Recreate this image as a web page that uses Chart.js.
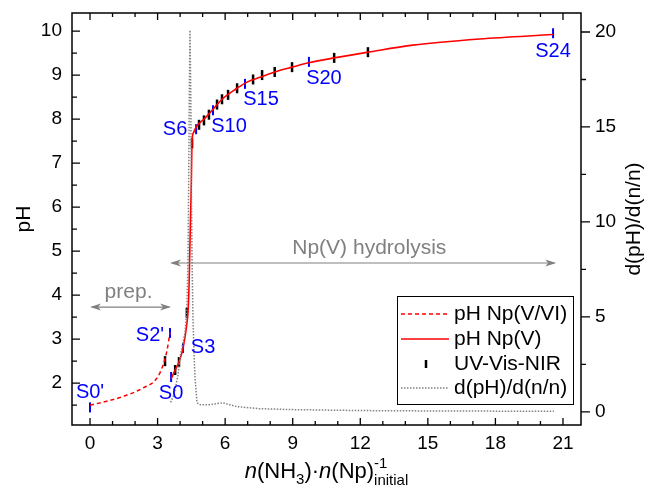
<!DOCTYPE html>
<html>
<head>
<meta charset="utf-8">
<script src="https://cdn.jsdelivr.net/npm/chart.js@4.4.1/dist/chart.umd.min.js"></script>
<style>
  html, body { margin: 0; padding: 0; background: #fff; }
</style>
</head>
<body>
<canvas id="mygraph" width="648" height="495"></canvas>
<script>
// pH during preparation, Np(V/VI) (dashed)
let prepX  = [0, 0.9, 1.65, 2.35, 2.95, 3.25, 3.42, 3.55];
let prepPH = [1.5, 1.61, 1.73, 1.89, 2.1, 2.42, 2.75, 3.15];

// pH during Np(V) hydrolysis (solid)
let npvX  = [3.6, 3.78, 3.95, 4.13, 4.28, 4.36, 4.4, 4.43, 4.46, 4.5, 4.53, 4.6, 4.75, 5.06, 5.46, 5.86, 6.53, 6.97, 7.55, 8.2, 8.97, 9.72, 10.84, 12.35, 14.34, 17.3, 20.56];
let npvPH = [2.1, 2.3, 2.48, 2.8, 3.27, 3.7, 4.27, 5.0, 5.7, 6.6, 7.5, 7.7, 7.85, 8.0, 8.22, 8.45, 8.7, 8.84, 8.95, 9.07, 9.18, 9.28, 9.39, 9.52, 9.68, 9.82, 9.92];

// UV-Vis-NIR sampling points (black marks)
let uvX  = [3.33, 3.78, 3.95, 4.3, 4.53, 4.84, 5.06, 5.28, 5.64, 5.86, 6.13, 6.53, 7.24, 7.64, 8.2, 8.97, 10.84, 12.34];
let uvPH = [2.5, 2.3, 2.48, 3.6, 7.45, 7.87, 7.97, 8.1, 8.33, 8.45, 8.55, 8.7, 8.9, 9.0, 9.07, 9.18, 9.39, 9.52];

// labelled samples (blue marks)
let sampleNames = ["S0'", "S0", "S2'", "S3", "S6", "S10", "S15", "S20", "S24"];
let sampleX  = [0, 3.6, 3.55, 4.13, 4.71, 5.46, 6.88, 9.72, 20.56];
let samplePH = [1.45, 2.14, 3.14, 2.8, 7.77, 8.2, 8.8, 9.3, 9.95];

// derivative d(pH)/d(n/n) (dotted, right axis)
let derivX = [3.58, 3.75, 3.9, 4.0, 4.12, 4.22, 4.3, 4.35, 4.38, 4.41, 4.44, 4.47, 4.5, 4.53, 4.57, 4.62, 4.66, 4.75, 4.9, 5.3, 5.9, 6.5, 7.5, 9, 12, 15, 18, 20.6];
let derivY = [0.5, 1.0, 1.9, 2.9, 3.6, 4.2, 5.5, 8, 12, 17, 20.1, 17, 12, 8, 5.0, 3, 1.85, 0.48, 0.37, 0.38, 0.48, 0.28, 0.17, 0.12, 0.07, 0.05, 0.04, 0.03];

let xTicks = [0, 3, 6, 9, 12, 15, 18, 21];
let phTicks = [2, 3, 4, 5, 6, 7, 8, 9, 10];
let derivTicks = [0, 5, 10, 15, 20];

// arrows: [x from, x to, pH level]
let prepArrow = [0, 3.6, 3.73];
let hydroArrow = [3.55, 20.7, 4.73];

var FONT = "'Liberation Sans', Arial, sans-serif";

function pts(xs, ys) {
  return xs.map(function (x, i) { return { x: x, y: ys[i] }; });
}

// where each blue label sits relative to its mark (px)
var labelShift = [[0, -15], [0, 16], [-20, 2], [20, 0], [-21, 0], [16, 16], [16, 16], [15, 17], [0, 18]];

function arrowHead(ctx, x, y, dir) {
  ctx.beginPath();
  ctx.moveTo(x, y);
  ctx.lineTo(x - dir * 11, y - 3.5);
  ctx.lineTo(x - dir * 8, y);
  ctx.lineTo(x - dir * 11, y + 3.5);
  ctx.closePath();
  ctx.fill();
}

function drawArrow(ctx, sx, sy, a) {
  var x1 = sx.getPixelForValue(a[0]);
  var x2 = sx.getPixelForValue(a[1]);
  var y = sy.getPixelForValue(a[2]);
  ctx.strokeStyle = '#808080';
  ctx.fillStyle = '#808080';
  ctx.lineWidth = 1.2;
  ctx.beginPath();
  ctx.moveTo(x1 + 2, y);
  ctx.lineTo(x2 - 2, y);
  ctx.stroke();
  arrowHead(ctx, x1, y, -1);
  arrowHead(ctx, x2, y, 1);
}

function noPad(s) {
  s.paddingTop = 0; s.paddingBottom = 0; s.paddingLeft = 0; s.paddingRight = 0;
}

var decor = {
  id: 'decor',
  afterDatasetsDraw: function (chart) {
    var ctx = chart.ctx;
    var a = chart.chartArea;
    var sx = chart.scales.x, sy = chart.scales.y, s2 = chart.scales.y2;
    ctx.save();

    // frame
    ctx.strokeStyle = '#000';
    ctx.lineWidth = 1.5;
    ctx.strokeRect(a.left, a.top, a.right - a.left, a.bottom - a.top);

    // ticks
    ctx.lineWidth = 1.3;
    ctx.beginPath();
    for (var v = 0; v <= 21; v++) {
      var px = sx.getPixelForValue(v);
      var len = v % 3 === 0 ? 7 : 4;
      ctx.moveTo(px, a.bottom); ctx.lineTo(px, a.bottom - len);
      ctx.moveTo(px, a.top); ctx.lineTo(px, a.top + len);
    }
    for (var p = 1.5; p <= 10; p += 0.5) {
      var py = sy.getPixelForValue(p);
      var l2 = p % 1 === 0 ? 8 : 5;
      ctx.moveTo(a.left, py); ctx.lineTo(a.left + l2, py);
    }
    for (var d = 0; d <= 20; d += 2.5) {
      var dy = s2.getPixelForValue(d);
      var l3 = d % 5 === 0 ? 9 : 5;
      ctx.moveTo(a.right, dy); ctx.lineTo(a.right + l3, dy);
    }
    ctx.stroke();

    // arrows and their captions
    drawArrow(ctx, sx, sy, prepArrow);
    drawArrow(ctx, sx, sy, hydroArrow);
    ctx.fillStyle = '#808080';
    ctx.font = '21px ' + FONT;
    ctx.textAlign = 'center';
    ctx.textBaseline = 'middle';
    ctx.fillText('prep.', sx.getPixelForValue((prepArrow[0] + prepArrow[1]) / 2) - 2, sy.getPixelForValue(prepArrow[2]) - 15);
    ctx.fillText('Np(V) hydrolysis', sx.getPixelForValue(12.4), sy.getPixelForValue(hydroArrow[2]) - 15);

    // sample names
    ctx.fillStyle = '#0000ff';
    ctx.font = '20px ' + FONT;
    for (var i = 0; i < sampleNames.length; i++) {
      var lx = sx.getPixelForValue(sampleX[i]) + labelShift[i][0];
      var ly = sy.getPixelForValue(samplePH[i]) + labelShift[i][1];
      ctx.fillText(sampleNames[i], lx, ly);
    }

    // legend
    var bx = 397, by = 296, bw = 176, bh = 108;
    ctx.fillStyle = '#fff';
    ctx.fillRect(bx, by, bw, bh);
    ctx.strokeStyle = '#000';
    ctx.lineWidth = 1;
    ctx.strokeRect(bx + 0.5, by + 0.5, bw, bh);
    var rows = [by + 18, by + 43, by + 68, by + 92];
    var names = ['pH Np(V/VI)', 'pH Np(V)', 'UV-Vis-NIR', 'd(pH)/d(n/n)'];
    ctx.lineWidth = 1.5;
    ctx.strokeStyle = '#ff0000';
    ctx.setLineDash([4, 3]);
    ctx.beginPath(); ctx.moveTo(bx + 4, rows[0]); ctx.lineTo(bx + 52, rows[0]); ctx.stroke();
    ctx.setLineDash([]);
    ctx.beginPath(); ctx.moveTo(bx + 4, rows[1]); ctx.lineTo(bx + 52, rows[1]); ctx.stroke();
    ctx.strokeStyle = '#000';
    ctx.lineWidth = 2.5;
    ctx.beginPath(); ctx.moveTo(bx + 29, rows[2] - 4); ctx.lineTo(bx + 29, rows[2] + 4); ctx.stroke();
    ctx.strokeStyle = '#808080';
    ctx.lineWidth = 1.5;
    ctx.setLineDash([1.5, 1.5]);
    ctx.beginPath(); ctx.moveTo(bx + 4, rows[3]); ctx.lineTo(bx + 52, rows[3]); ctx.stroke();
    ctx.setLineDash([]);
    ctx.fillStyle = '#000';
    ctx.textAlign = 'left';
    ctx.font = '21px ' + FONT;
    for (var k = 0; k < names.length; k++) ctx.fillText(names[k], bx + 57, rows[k]);

    // axis titles
    ctx.font = '21px ' + FONT;
    ctx.textAlign = 'center';
    ctx.save();
    ctx.translate(24, (a.top + a.bottom) / 2);
    ctx.rotate(-Math.PI / 2);
    ctx.fillText('pH', 0, 0);
    ctx.restore();
    ctx.save();
    ctx.translate(634, (a.top + a.bottom) / 2);
    ctx.rotate(-Math.PI / 2);
    ctx.fillText('d(pH)/d(n/n)', 0, 0);
    ctx.restore();

    // x title with sub/superscripts
    var big = '22px ' + FONT, ital = 'italic 22px ' + FONT, small = '15px ' + FONT;
    var parts = [['n', ital, 0], ['(NH', big, 0], ['3', small, 6], [')\u00b7', big, 0], ['n', ital, 0], ['(Np)', big, 0]];
    ctx.textAlign = 'left';
    ctx.textBaseline = 'alphabetic';
    var total = 0;
    parts.forEach(function (q) { ctx.font = q[1]; total += ctx.measureText(q[0]).width; });
    ctx.font = small;
    var tail = ctx.measureText('initial').width;
    var tx = (a.left + a.right) / 2 - (total + tail) / 2;
    var base = 478;
    parts.forEach(function (q) {
      ctx.font = q[1];
      ctx.fillText(q[0], tx, base + q[2]);
      tx += ctx.measureText(q[0]).width;
    });
    ctx.font = small;
    ctx.fillText('-1', tx, base - 10);
    ctx.fillText('initial', tx, base + 7);

    ctx.restore();
  }
};

var ctx = document.getElementById('mygraph');

var tickFont = { family: FONT, size: 19 };

var mygraph = new Chart(ctx, {
  type: 'line',
  data: {
    datasets: [
      {
        data: pts(derivX, derivY),
        yAxisID: 'y2',
        borderColor: '#808080',
        borderWidth: 1.5,
        borderDash: [1.5, 1.5],
        pointRadius: 0,
        fill: false
      },
      {
        data: pts(prepX, prepPH),
        yAxisID: 'y',
        borderColor: '#ff0000',
        borderWidth: 1.5,
        borderDash: [4, 3],
        cubicInterpolationMode: 'monotone',
        pointRadius: 0,
        fill: false
      },
      {
        data: pts(npvX, npvPH),
        yAxisID: 'y',
        borderColor: '#ff0000',
        borderWidth: 1.6,
        cubicInterpolationMode: 'monotone',
        pointRadius: 0,
        fill: false
      },
      {
        data: pts(uvX, uvPH),
        yAxisID: 'y',
        showLine: false,
        pointStyle: 'line',
        pointRotation: 90,
        pointRadius: 5,
        pointBorderWidth: 2.5,
        pointBorderColor: '#000',
        borderColor: '#000'
      },
      {
        data: pts(sampleX, samplePH),
        yAxisID: 'y',
        showLine: false,
        pointStyle: 'line',
        pointRotation: 90,
        pointRadius: 5,
        pointBorderWidth: 2,
        pointBorderColor: '#0000ff',
        borderColor: '#0000ff'
      }
    ]
  },
  options: {
    responsive: false,
    animation: false,
    layout: { padding: { top: 13, left: 0, right: 0, bottom: 0 } },
    plugins: { legend: { display: false }, tooltip: { enabled: false } },
    scales: {
      x: {
        type: 'linear',
        min: -0.8,
        max: 21.8,
        grid: { display: false, drawTicks: false },
        border: { display: false },
        afterBuildTicks: function (s) { s.ticks = xTicks.map(function (v) { return { value: v }; }); },
        afterFit: function (s) { s.height = 70; noPad(s); },
        ticks: { font: tickFont, color: '#000', padding: 7, maxRotation: 0, autoSkip: false }
      },
      y: {
        type: 'linear',
        position: 'left',
        min: 1.05,
        max: 10.41,
        grid: { display: false, drawTicks: false },
        border: { display: false },
        afterBuildTicks: function (s) { s.ticks = phTicks.map(function (v) { return { value: v }; }); },
        afterFit: function (s) { s.width = 72; noPad(s); },
        ticks: { font: tickFont, color: '#000', padding: 10 }
      },
      y2: {
        type: 'linear',
        position: 'right',
        min: -0.69,
        max: 21.0,
        grid: { display: false, drawTicks: false },
        border: { display: false },
        afterBuildTicks: function (s) { s.ticks = derivTicks.map(function (v) { return { value: v }; }); },
        afterFit: function (s) { s.width = 67; noPad(s); },
        ticks: { font: tickFont, color: '#000', padding: 14 }
      }
    }
  },
  plugins: [decor]
});
</script>
</body>
</html>
